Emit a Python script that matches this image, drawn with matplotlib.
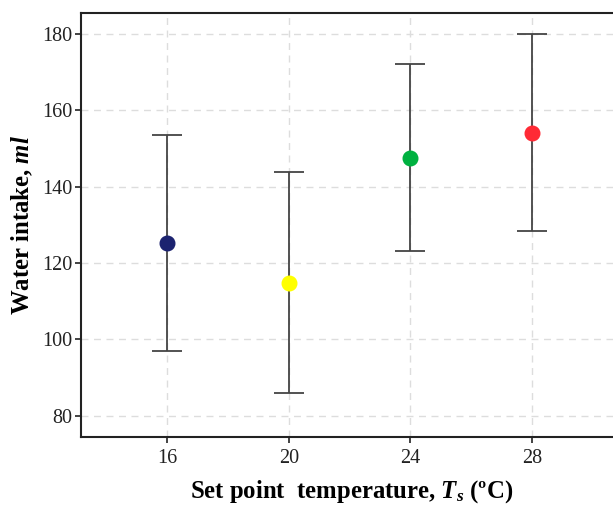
import matplotlib
matplotlib.use('Agg')
from matplotlib import pyplot as plt
import numpy as np

# set point temperatures and water intake (mean +/- error)
temps = [16, 20, 24, 28]
intake_mean = [125.2, 114.8, 147.5, 154.1]
intake_err = [28.4, 28.9, 24.5, 25.8]
dot_colors = ['#1c2370', '#ffff00', '#00b140', '#ff2a35']
xticks = [16, 20, 24, 28]
yticks = [80, 100, 120, 140, 160, 180]

plt.rcParams['font.family'] = 'Liberation Serif'
plt.rcParams['mathtext.fontset'] = 'custom'
plt.rcParams['mathtext.rm'] = 'Liberation Serif'
plt.rcParams['mathtext.it'] = 'Liberation Serif:italic'
plt.rcParams['mathtext.bf'] = 'Liberation Serif:bold'
plt.rcParams['mathtext.bfit'] = 'Liberation Serif:bold:italic'

fig = plt.figure(figsize=(6.13, 5.05), dpi=100)
ax = fig.add_axes([0.1317, 0.1347, 0.885, 0.839])

for t, m, e, c in zip(temps, intake_mean, intake_err, dot_colors):
    ax.errorbar(t, m, yerr=e, fmt='none', ecolor='#444444', elinewidth=1.3,
                capsize=11, capthick=1.3, zorder=2)
    ax.plot(t, m, 'o', color=c, markersize=10.5, zorder=3)

ax.set_xlim(13.15, 31)
ax.set_ylim(74.4, 185.4)
ax.set_xticks(xticks)
ax.set_yticks(yticks)
ax.grid(True, color='#dddddd', linestyle=(0, (5, 4)), linewidth=1)
ax.set_axisbelow(True)

for s in ax.spines.values():
    s.set_linewidth(1.5)
    s.set_color('#222222')
ax.tick_params(direction='out', length=4, width=1.2, labelsize=14.5,
               colors='#222222', pad=2)
ax.tick_params(axis='x', pad=5)

ax.set_xlabel(r'Set point  temperature, $\mathbfit{T_s}$ (ºC)',
              fontsize=17.8, fontweight='bold', labelpad=7)
ax.set_ylabel(r'Water intake, $\mathbfit{ml}$',
              fontsize=17.8, fontweight='bold', labelpad=5)

fig.savefig('out.png', dpi=100)
